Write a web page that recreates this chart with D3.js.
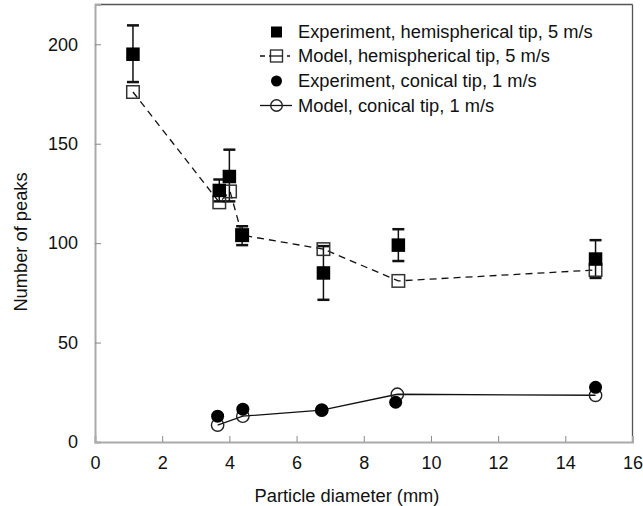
<!DOCTYPE html>
<html><head><meta charset="utf-8">
<script src="https://cdn.jsdelivr.net/npm/d3@7"></script>
<style>body{margin:0;background:#fff}svg{display:block}text{font-family:"Liberation Sans",Arial,sans-serif;fill:#111}</style>
</head><body>
<script>
const hemiExpX = [1.13, 3.7, 4.0, 4.38, 6.8, 9.03, 14.9];
const hemiExpY = [195, 126.5, 133.5, 104, 85, 99, 92];
const hemiErrHi = [209.5, 132, 147, 108.5, 98.5, 107, 101.5];
const hemiErrLo = [181, 121, 121, 99, 71.5, 91, 82.5];
const hemiModX = [1.13, 3.7, 4.02, 4.38, 6.8, 9.03, 14.9];
const hemiModY = [176, 120.5, 126, 104, 97, 81, 86.5];
const conExpX = [3.65, 4.4, 6.75, 8.95, 14.9];
const conExpY = [13, 16.5, 16, 20, 27.5];
const conModX = [3.65, 4.4, 6.75, 9.0, 14.9];
const conModY = [8.5, 13, 16, 24, 23.5];
const xTicks = [0,2,4,6,8,10,12,14,16];
const yTicks = [0,50,100,150,200];
const legendLabels = ["Experiment, hemispherical tip, 5 m/s","Model, hemispherical tip, 5 m/s","Experiment, conical tip, 1 m/s","Model, conical tip, 1 m/s"];

const W=643,H=506;
const svg=d3.select("body").append("svg").attr("width",W).attr("height",H);
const x=d3.scaleLinear().domain([0,16]).range([95,632.5]);
const y=d3.scaleLinear().domain([0,220]).range([442,4.5]);
const FS=18.3;

// frame
svg.append("line").attr("x1",x(0)).attr("x2",x(16)).attr("y1",y(220)).attr("y2",y(220)).attr("stroke","#555").attr("stroke-width",1.3);
svg.append("line").attr("x1",x(16)).attr("x2",x(16)).attr("y1",y(220)).attr("y2",y(0)).attr("stroke","#555").attr("stroke-width",1.3);

const xa=svg.append("g").attr("transform",`translate(0,${y(0)})`)
 .call(d3.axisBottom(x).tickValues(xTicks).tickSize(-6).tickPadding(14).tickFormat(d3.format("d")));
const ya=svg.append("g").attr("transform",`translate(${x(0)},0)`)
 .call(d3.axisLeft(y).tickValues(yTicks).tickSize(-6).tickPadding(17).tickFormat(d3.format("d")));
[xa,ya].forEach(a=>{a.select(".domain").attr("stroke","#aaa").attr("stroke-width",2);
 a.selectAll(".tick line").attr("stroke","#888").attr("stroke-width",1);
 a.selectAll(".tick text").attr("font-size",18).attr("fill","#111").style("font-family","'Liberation Sans',Arial,sans-serif");});
xa.selectAll(".tick").filter(d=>d===0||d===16).select("line").remove();
ya.selectAll(".tick").filter(d=>d===0).select("line").remove();

svg.append("text").attr("x",347).attr("y",502).attr("text-anchor","middle").attr("font-size",FS).text("Particle diameter (mm)");
svg.append("text").attr("transform","translate(27,242) rotate(-90)").attr("text-anchor","middle").attr("font-size",FS).text("Number of peaks");

const line=d3.line().x(d=>x(d[0])).y(d=>y(d[1]));
const hemiMod=hemiModX.map((v,i)=>[v,hemiModY[i]]);
const conMod=conModX.map((v,i)=>[v,conModY[i]]);
svg.append("path").attr("d",line(hemiMod)).attr("fill","none").attr("stroke","#111").attr("stroke-width",1.3).attr("stroke-dasharray","7,5");
svg.append("path").attr("d",line(conMod)).attr("fill","none").attr("stroke","#111").attr("stroke-width",1.3);

// error bars
const eb=svg.append("g");
hemiExpX.forEach((v,i)=>{
 const cx=x(v);
 eb.append("line").attr("x1",cx).attr("x2",cx).attr("y1",y(hemiErrHi[i])).attr("y2",y(hemiErrLo[i])).attr("stroke","#111").attr("stroke-width",1.5);
 [hemiErrHi[i],hemiErrLo[i]].forEach(e=>eb.append("line").attr("x1",cx-6).attr("x2",cx+6).attr("y1",y(e)).attr("y2",y(e)).attr("stroke","#111").attr("stroke-width",2.5));
});

const S=13.5;
// model squares (open)
svg.append("g").selectAll("rect").data(hemiMod).join("rect")
 .attr("x",d=>x(d[0])-7+0.75).attr("y",d=>y(d[1])-7+0.75).attr("width",14-1.5).attr("height",14-1.5)
 .attr("fill","none").attr("stroke","#333").attr("stroke-width",1.5);
// experiment squares
svg.append("g").selectAll("rect").data(hemiExpX.map((v,i)=>[v,hemiExpY[i]])).join("rect")
 .attr("x",d=>x(d[0])-S/2).attr("y",d=>y(d[1])-S/2).attr("width",S).attr("height",S).attr("fill","#000");
// model circles (open)
svg.append("g").selectAll("circle").data(conMod).join("circle")
 .attr("cx",d=>x(d[0])).attr("cy",d=>y(d[1])).attr("r",6.2).attr("fill","none").attr("stroke","#222").attr("stroke-width",1.4);
// experiment circles
svg.append("g").selectAll("circle").data(conExpX.map((v,i)=>[v,conExpY[i]])).join("circle")
 .attr("cx",d=>x(d[0])).attr("cy",d=>y(d[1])).attr("r",6.5).attr("fill","#000");

// legend
const lg=svg.append("g");
const ly=[32,56,81,105.5], mx=276.5, tx=298;
legendLabels.forEach((t,i)=>lg.append("text").attr("x",tx).attr("y",ly[i]).attr("dy","0.35em").attr("font-size",FS).text(t));
lg.append("rect").attr("x",mx-5.5).attr("y",ly[0]-5.5).attr("width",11).attr("height",11).attr("fill","#000");
lg.append("line").attr("x1",260).attr("x2",290).attr("y1",ly[1]).attr("y2",ly[1]).attr("stroke","#111").attr("stroke-width",1.3).attr("stroke-dasharray","5,4");
lg.append("rect").attr("x",mx-6).attr("y",ly[1]-6).attr("width",12).attr("height",12).attr("fill","#fff").attr("stroke","#333").attr("stroke-width",1.4);
lg.append("line").attr("x1",mx-6).attr("x2",mx+6).attr("y1",ly[1]).attr("y2",ly[1]).attr("stroke","#111").attr("stroke-width",1.3);
lg.append("circle").attr("cx",mx).attr("cy",ly[2]).attr("r",5.5).attr("fill","#000");
lg.append("line").attr("x1",260).attr("x2",292).attr("y1",ly[3]).attr("y2",ly[3]).attr("stroke","#111").attr("stroke-width",1.3);
lg.append("circle").attr("cx",mx).attr("cy",ly[3]).attr("r",5.8).attr("fill","none").attr("stroke","#222").attr("stroke-width",1.4);
</script>
</body></html>
